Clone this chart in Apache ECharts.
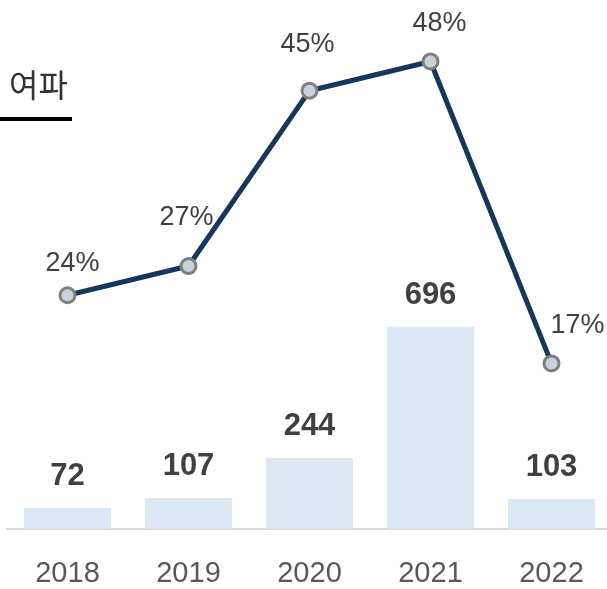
<!DOCTYPE html>
<html>
<head>
<meta charset="utf-8">
<script src="https://cdn.jsdelivr.net/npm/echarts@6/dist/echarts.min.js"></script>
<style>
  html, body { margin: 0; padding: 0; background: #fff; overflow: hidden; }
  #chart { width: 615px; height: 589px; }
</style>
</head>
<body>
<div id="chart"></div>
<script>
// 연도별 값
const years = ['2018', '2019', '2020', '2021', '2022']
const barValues = [72, 107, 244, 696, 103]
const ratePct = [24, 27, 45, 48, 17]
const titleText = '여파'

// 라벨 위치 보정 (라인 라벨)
const rateLabelOffsets = [[5, -5], [-2, -22], [-2, -20], [9, -11], [26, -11]]

const cs = echarts.init(document.getElementById('chart'))

const lineData = ratePct.map((v, i) => ({
    value: v,
    label: { offset: rateLabelOffsets[i] }
}))

const option = {
    animation: false,
    grid: { left: 7, width: 605, top: 42, bottom: 60 },
    xAxis: {
        type: 'category',
        data: years,
        axisTick: { show: false },
        axisLine: { lineStyle: { color: '#d9d9d9', width: 2 } },
        axisLabel: {
            margin: 30,
            fontSize: 29,
            color: '#595959',
            fontFamily: '"Liberation Sans", Arial, sans-serif'
        }
    },
    yAxis: [
        { type: 'value', min: 0, max: 1675, show: false },
        { type: 'value', min: 0, max: 50, show: false }
    ],
    graphic: [
        {
            type: 'text', left: 9, top: 69,
            style: { text: titleText, fontSize: 32, fill: '#333333', fontFamily: '"Noto Sans CJK KR", sans-serif' }
        },
        {
            type: 'rect', left: 0, top: 117,
            shape: { width: 72, height: 4 },
            style: { fill: '#000000' }
        }
    ],
    series: [
        {
            type: 'bar',
            data: barValues,
            barWidth: 87,
            itemStyle: { color: '#dde8f5' },
            label: {
                show: true,
                position: 'top',
                distance: 16,
                fontSize: 31,
                fontWeight: 'bold',
                color: '#404040',
                fontFamily: '"Liberation Sans", Arial, sans-serif'
            }
        },
        {
            type: 'line',
            yAxisIndex: 1,
            data: lineData,
            symbol: 'circle',
            symbolSize: 15,
            lineStyle: { color: '#17365d', width: 5 },
            itemStyle: { color: '#c9d1dd', borderColor: '#7f7f7f', borderWidth: 3 },
            label: {
                show: true,
                position: 'top',
                distance: 4,
                fontSize: 27,
                color: '#404040',
                fontFamily: '"Liberation Sans", Arial, sans-serif',
                formatter: '{c}%'
            },
            z: 5
        }
    ]
}

cs.setOption(option)
</script>
</body>
</html>
